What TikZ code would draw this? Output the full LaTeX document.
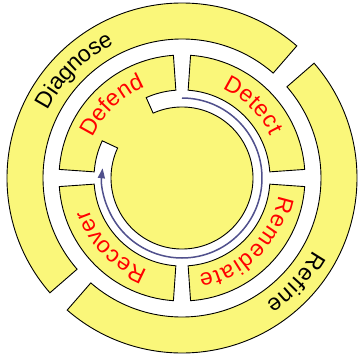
\documentclass[tikz,border=0pt]{standalone}
\usepackage{fontspec}
\setmainfont{Liberation Sans}
\usetikzlibrary{decorations.text,arrows.meta}
\definecolor{segyellow}{RGB}{250,247,122}
\definecolor{cyclearrow}{RGB}{80,80,140}
\tikzset{
  seg/.style={draw=black,line width=0.9pt,fill=segyellow,line join=miter},
  outertext/.style={decorate,decoration={text along path,text align=fit to path,raise=-7pt,
     text={|\fontsize{23}{27}\selectfont|#1}}},
  innertext/.style={decorate,decoration={text along path,text align=fit to path,text color=red,raise=-7pt,
     text={|\fontsize{23}{27}\selectfont|#1}}},
}
\newcommand{\annseg}[4]{% start angle, end angle, inner r, outer r
  \draw[seg] (#1:#3) arc[start angle=#1,end angle=#2,radius=#3] -- (#2:#4)
     arc[start angle=#2,end angle=#1,radius=#4] -- cycle;}
\begin{document}
\begin{tikzpicture}
\fill[white] (-182pt,-184pt) rectangle (177pt,178pt);
\useasboundingbox (-182pt,-184pt) rectangle (177pt,178pt);
% outer ring
\annseg{49}{221}{139pt}{175pt}
\annseg{229}{401}{139pt}{175pt}
% middle ring
\annseg{4}{86}{88pt}{123pt}
\annseg{-86}{-4}{88pt}{123pt}
\annseg{184}{266}{88pt}{123pt}
% Defend merged with inner disk
\draw[seg] (114:71pt) arc[start angle=114,end angle=-205,radius=71pt] -- (155:88pt)
   arc[start angle=155,end angle=176,radius=88pt] -- (176:123pt)
   arc[start angle=176,end angle=94,radius=123pt] -- (94:88pt)
   arc[start angle=94,end angle=114,radius=88pt] -- cycle;
% cycle arrow
\draw[cyclearrow,line width=1.5pt,-{Triangle[length=10pt,width=7pt]}] (90:80pt) arc[start angle=90,end angle=-187,radius=80pt];
% texts
\path[outertext=Diagnose] (153:157pt) arc[start angle=153,end angle=117,radius=157pt];
\path[outertext=Refine] (-29:157pt) arc[start angle=-29,end angle=-56,radius=157pt];
\path[innertext=Defend] (155.5:105pt) arc[start angle=155.5,end angle=112.5,radius=105pt];
\path[innertext=Detect] (65.5:105pt) arc[start angle=65.5,end angle=25.5,radius=105pt];
\path[innertext=Remediate] (-10.5:105pt) arc[start angle=-10.5,end angle=-80,radius=105pt];
\path[innertext=Recover] (249:105pt) arc[start angle=249,end angle=199,radius=105pt];
\end{tikzpicture}
\end{document}
